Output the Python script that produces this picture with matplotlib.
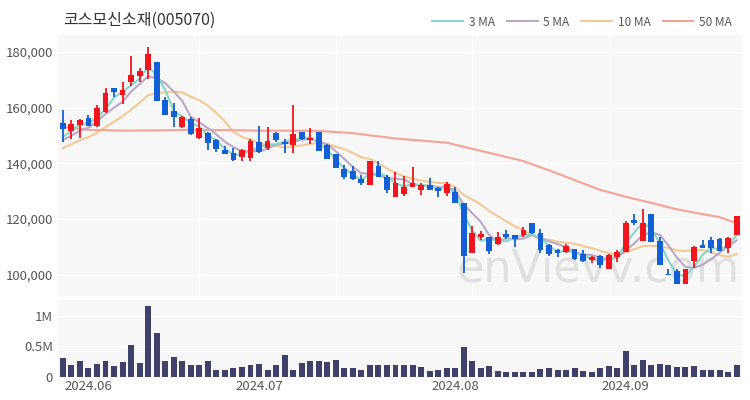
import numpy as np
import pandas as pd
import matplotlib
matplotlib.use("Agg")
import matplotlib.pyplot as plt

plt.rcParams['font.family'] = ['Noto Sans CJK KR', 'DejaVu Sans']

title = "코스모신소재(005070)"

# daily candles, oldest first
opens = [154300, 151700, 153700, 156100, 153400, 158500, 166900, 164500, 169300, 171300,
         173400, 176200, 162700, 158700, 152900, 155900, 148900, 150700, 148300, 144800,
         143800, 142400, 141800, 147800, 145400, 150700, 147800, 146600, 151100, 148400,
         151100, 146600, 143300, 138000, 137400, 134300, 132200, 139200, 135200, 127800,
         129000, 131600, 130400, 132200, 131000, 129500, 129800, 125700, 107700, 113500,
         113500, 111100, 114700, 114300, 114300, 118500, 114900, 110700, 108900, 108300,
         109200, 107500, 105400, 106900, 102000, 106300, 108300, 119700, 112300, 121800,
         112300, 100300, 101500, 96700, 105100, 110700, 112500, 112800, 109500, 114300]
highs = [159100, 155500, 155800, 157300, 160900, 166900, 166900, 169300, 178500, 174000,
         181600, 176200, 163900, 161700, 156900, 156700, 156100, 151300, 148600, 146200,
         145400, 145000, 148600, 153400, 153100, 151300, 148600, 160900, 151300, 152500,
         151300, 146900, 143300, 139400, 139000, 135800, 140800, 140900, 135800, 137000,
         135400, 138800, 133100, 134600, 131600, 133400, 131600, 125700, 117500, 115900,
         113500, 115500, 116100, 114300, 117100, 118700, 116300, 111100, 109300, 111000,
         109200, 108900, 106800, 107100, 107500, 108900, 119400, 121700, 123500, 121800,
         113700, 102000, 102000, 102000, 110400, 112500, 113500, 113100, 113500, 121100]
lows = [147700, 148600, 148900, 153400, 153100, 158100, 163900, 161300, 167700, 169300,
        170100, 162400, 157300, 153100, 152500, 150100, 148700, 144800, 144200, 143200,
        140900, 140900, 140800, 143600, 144800, 147800, 143800, 143600, 148400, 146900,
        144400, 141500, 138200, 134300, 134000, 132200, 132200, 135000, 129200, 127800,
        128300, 131400, 128600, 130400, 128000, 128300, 125900, 100800, 107700, 112500,
        107500, 110700, 112800, 109900, 113700, 114700, 108000, 106800, 106300, 108000,
        105300, 104800, 104200, 102400, 102000, 104800, 108300, 117900, 112300, 111900,
        103600, 100000, 96700, 96700, 102400, 109500, 108000, 108700, 108000, 114300]
closes = [152200, 154100, 155700, 153400, 159700, 165300, 165700, 166300, 171600, 173100,
          179200, 162400, 157300, 156500, 156500, 150500, 152500, 147200, 145000, 143200,
          141200, 144800, 148100, 144200, 148000, 148400, 146900, 150500, 148700, 148900,
          144400, 141500, 138200, 135000, 134300, 133100, 140800, 135000, 130400, 133100,
          131600, 132800, 132200, 130400, 130200, 132600, 125900, 106800, 115100, 114700,
          108700, 113700, 113700, 112900, 116100, 114900, 108900, 107500, 108000, 110500,
          105600, 105100, 106500, 103600, 107100, 108300, 118700, 118700, 118700, 111900,
          103600, 100000, 96700, 102000, 110100, 109500, 109500, 108700, 113100, 121100]
volumes = [310000, 190000, 260000, 150000, 220000, 260000, 180000, 250000, 520000, 230000,
           1160000, 720000, 260000, 330000, 270000, 200000, 200000, 270000, 120000, 120000,
           140000, 170000, 190000, 220000, 120000, 200000, 360000, 120000, 230000, 260000,
           260000, 240000, 280000, 150000, 140000, 120000, 190000, 190000, 200000, 200000,
           190000, 200000, 160000, 100000, 110000, 140000, 150000, 490000, 270000, 150000,
           180000, 100000, 80000, 80000, 80000, 90000, 130000, 140000, 120000, 110000,
           140000, 100000, 80000, 140000, 180000, 140000, 420000, 200000, 280000, 200000,
           220000, 190000, 160000, 160000, 180000, 120000, 120000, 110000, 90000, 200000]

# closes before the window, only used to seed the short moving averages
prev_close = [140000, 141000, 142500, 144000, 145000, 146000, 147000, 148000, 148300]

# 50 day average read at some bars (bar index, value)
ma50_idx = [0, 3, 7, 11, 15, 19, 23, 27, 30, 34, 39, 45, 48, 51, 54, 57, 60, 63, 66, 69, 72, 75, 77, 79]
ma50_val = [153000, 152000, 151700, 151800, 152000, 151900, 151700, 151700, 151600, 150800,
            148900, 147400, 145200, 143000, 140800, 137500, 134000, 130500, 128000, 125800,
            123500, 121800, 120700, 118500]

month_pos = [3, 23, 46, 66]
month_labels = ["2024.06", "2024.07", "2024.08", "2024.09"]

up_color = '#f2151d'
down_color = '#135fd6'
ma_colors = {'3 MA': '#86d6c8', '5 MA': '#b9a8c8', '10 MA': '#f2c994', '50 MA': '#f5a396'}

n = len(closes)
x = np.arange(n)
o = np.array(opens)
c = np.array(closes)
h = np.array(highs)
l = np.array(lows)

allc = pd.Series(prev_close + closes)
ma3 = allc.rolling(3).mean().values[len(prev_close):]
ma5 = allc.rolling(5).mean().values[len(prev_close):]
ma10 = allc.rolling(10).mean().values[len(prev_close):]

fig = plt.figure(figsize=(7.5, 4), dpi=100)
ax = fig.add_axes([0.077, 0.26, 0.912, 0.6525])
axv = fig.add_axes([0.077, 0.0575, 0.912, 0.1925])

for a in (ax, axv):
    a.set_facecolor('#f7f7f7')
    for s in a.spines.values():
        s.set_visible(False)
    a.tick_params(length=0, labelsize=9.5, colors='#555555')
    a.set_xlim(-0.6, n - 0.4)

# grid
for gy in [100000, 120000, 140000, 160000, 180000]:
    ax.axhline(gy, color='white', lw=1, zorder=0)
for gx in [16, 32, 48, 64]:
    ax.axvline(gx, color='white', lw=1, zorder=0)

ax.text(0.997, 0.02, "enVievv.com", transform=ax.transAxes, ha='right', va='bottom',
        fontsize=32, color='#e0e0e0', family='DejaVu Sans', zorder=0.5)

# moving averages
ax.plot(x, ma10, color=ma_colors['10 MA'], lw=1.5, zorder=2)
ax.plot(ma50_idx, ma50_val, color=ma_colors['50 MA'], lw=1.5, zorder=2)
ax.plot(x, ma5, color=ma_colors['5 MA'], lw=1.5, zorder=2)
ax.plot(x, ma3, color=ma_colors['3 MA'], lw=1.5, zorder=2)

# candles
cols = np.where(c >= o, up_color, down_color)
ax.vlines(x, l, h, colors=cols, lw=1.3, zorder=3)
body_h = np.maximum(np.abs(c - o), 500)
ax.bar(x, body_h, bottom=np.minimum(o, c), width=0.68, color=cols, zorder=4)

ax.set_ylim(92440, 185990)
ax.set_yticks([100000, 120000, 140000, 160000, 180000])
ax.set_yticklabels([f"{v:,}" for v in [100000, 120000, 140000, 160000, 180000]])
ax.set_xticks([])

# volume
axv.axhline(500000, color='white', lw=1, zorder=0)
axv.axhline(1000000, color='white', lw=1, zorder=0)
axv.bar(x, volumes, width=0.7, color='#40416b', zorder=2)
axv.set_ylim(0, 1260000)
axv.set_yticks([0, 500000, 1000000])
axv.set_yticklabels(["0", "0.5M", "1M"])
axv.set_xticks(month_pos)
axv.set_xticklabels(month_labels)
axv.tick_params(axis='x', pad=2)

fig.text(0.084, 0.948, title, fontsize=11.5, color='#333333', va='center', ha='left')

handles = [plt.Line2D([], [], color=v, lw=1.5) for v in ma_colors.values()]
fig.legend(handles, list(ma_colors.keys()), loc='center right', bbox_to_anchor=(0.99, 0.945),
           ncol=4, frameon=False, fontsize=8.5, handlelength=2.6, handletextpad=0.5,
           columnspacing=1.0, labelcolor='#555555')

fig.savefig("out.png", dpi=100)
